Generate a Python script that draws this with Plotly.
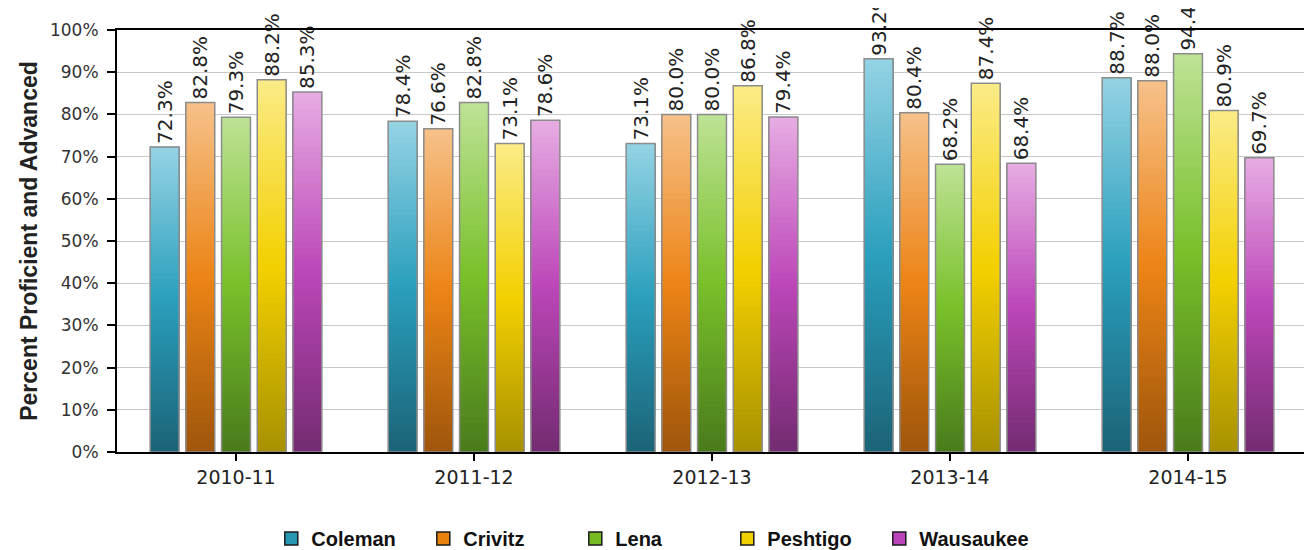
import plotly.graph_objects as go

# data
anos = ['2010-11', '2011-12', '2012-13', '2013-14', '2014-15']
escolas = ['Coleman', 'Crivitz', 'Lena', 'Peshtigo', 'Wausaukee']
coleman = [72.3, 78.4, 73.1, 93.2, 88.7]
crivitz = [82.8, 76.6, 80.0, 80.4, 88.0]
lena = [79.3, 82.8, 80.0, 68.2, 94.4]
peshtigo = [88.2, 73.1, 86.8, 87.4, 80.9]
wausaukee = [85.3, 78.6, 79.4, 68.4, 69.7]
valores = [coleman, crivitz, lena, peshtigo, wausaukee]
y_ticks = list(range(0, 101, 10))
y_tick_txt = ['%d%%' % v for v in y_ticks]

# (top, middle, bottom) colours for the shaded bars + legend colour
cores = {
    'Coleman': ('#93d2e3', '#2a9fbd', '#1c6478', '#2696b2'),
    'Crivitz': ('#f6c088', '#ec8416', '#a0560c', '#e8820e'),
    'Lena': ('#bce293', '#79c02a', '#4a7c1c', '#77bb22'),
    'Peshtigo': ('#fbeb85', '#f3d000', '#a89200', '#f0d000'),
    'Wausaukee': ('#e6abe2', '#bc46b9', '#742c72', '#bb44bb'),
}

N = 60  # number of slices used to fake the vertical gradient


def hex2rgb(h):
    h = h.lstrip('#')
    return [int(h[i:i + 2], 16) for i in (0, 2, 4)]


def mistura(c1, c2, t):
    a, b = hex2rgb(c1), hex2rgb(c2)
    return 'rgb(%d,%d,%d)' % tuple(round(a[i] + (b[i] - a[i]) * t) for i in range(3))


def cor_fatia(topo, meio, base, t):
    # t = 0 at the bottom of the bar, 1 at the top
    if t < 0.5:
        return mistura(base, meio, t / 0.5)
    return mistura(meio, topo, (t - 0.5) / 0.5)


fig = go.Figure()

for nome, vals in zip(escolas, valores):
    topo, meio, base, _ = cores[nome]
    # each layer starts a bit higher and is drawn on top of the previous one
    for k in range(N):
        fig.add_trace(go.Bar(
            x=anos,
            y=[v * (N - k) / N for v in vals],
            base=[v * k / N for v in vals],
            offsetgroup=nome,
            marker=dict(color=cor_fatia(topo, meio, base, k / (N - 1)), line=dict(width=0)),
            showlegend=False,
            hoverinfo='skip',
        ))
    # outline + value label
    fig.add_trace(go.Bar(
        x=anos,
        y=vals,
        name=nome,
        offsetgroup=nome,
        marker=dict(color='rgba(0,0,0,0)', line=dict(color='#8c8c8c', width=1.5)),
        texttemplate='%{y:.1f}%',
        textposition='outside',
        textangle=-90,
        constraintext='none',
        cliponaxis=False,
        textfont=dict(family='DejaVu Sans', size=20, color='#222222'),
        showlegend=False,
    ))

# legend entries
for nome in escolas:
    fig.add_trace(go.Scatter(
        x=[anos[0]], y=[None], mode='markers', name=nome,
        marker=dict(symbol='square', size=13, color=cores[nome][3],
                    line=dict(color='#1a1a1a', width=1.5)),
    ))

# the page body adds an 8px offset, so the figure is a bit smaller than the window
fig.update_layout(
    width=1304,
    height=542,
    barmode='group',
    bargap=0.25,
    bargroupgap=0.19,
    plot_bgcolor='white',
    paper_bgcolor='white',
    margin=dict(l=109, r=5, t=22, b=98, autoexpand=False),
    legend=dict(
        orientation='h',
        x=0.449, xanchor='center',
        y=-0.205, yanchor='middle',
        entrywidth=107,
        font=dict(family='Liberation Sans', size=20, color='#111111', weight='bold'),
    ),
)

fig.update_yaxes(
    range=[0, 100],
    tickvals=y_ticks,
    ticktext=y_tick_txt,
    automargin=False,
    showgrid=True,
    gridcolor='#c8c8c8',
    gridwidth=1,
    showline=True,
    linecolor='black',
    linewidth=2,
    mirror=True,
    ticks='outside',
    ticklen=8,
    tickcolor='black',
    tickwidth=2,
    ticklabelstandoff=5,
    tickfont=dict(family='DejaVu Sans', size=17, color='#333333'),
    title=dict(text='Percent Proficient and Advanced', standoff=6,
               font=dict(family='Liberation Sans', size=23, color='#222222', weight='bold')),
    zeroline=False,
)

fig.update_xaxes(
    type='category',
    automargin=False,
    showline=True,
    linecolor='black',
    linewidth=2,
    mirror=True,
    ticks='outside',
    ticklen=7,
    tickcolor='black',
    tickwidth=2,
    tickfont=dict(family='DejaVu Sans', size=19, color='#222222'),
)

fig.write_html("out.html")
